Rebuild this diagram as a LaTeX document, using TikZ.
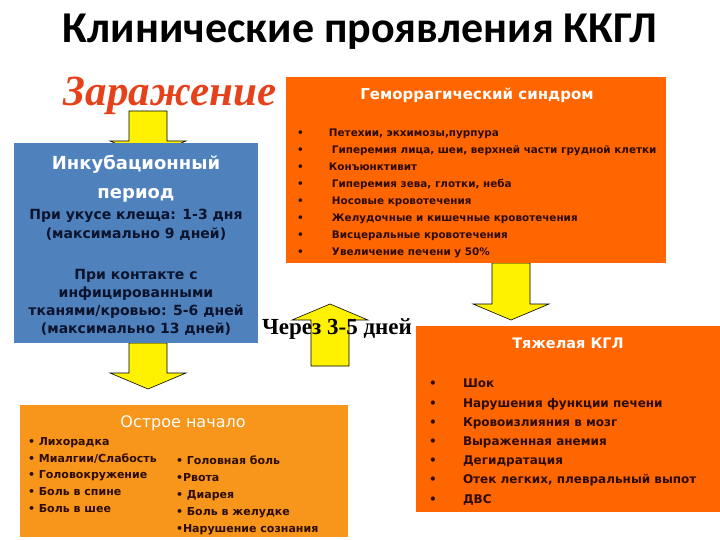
\documentclass[tikz,border=0pt]{standalone}
\usepackage{fontspec}
\setmainfont{DejaVu Sans}
\newfontfamily\titlefont{Carlito}
\newfontfamily\timesfont{Liberation Serif}
\usetikzlibrary{calc,backgrounds}

\definecolor{hemorange}{RGB}{255,102,0}
\definecolor{acuteorange}{RGB}{247,150,27}
\definecolor{incblue}{RGB}{79,129,189}
\definecolor{infred}{RGB}{229,66,27}
\definecolor{browntext}{RGB}{45,12,4}
\definecolor{navytext}{RGB}{12,20,45}

% yellow block arrow from #1 (tail) to #2 (tip), vertical
\newcommand{\yarrow}[2]{%
  \draw[yellowarrow] let \p1=(#1), \p2=(#2), \n1={sign(\y2-\y1)} in
    (\x1-19pt,\y1) -- (\x1+19pt,\y1)
    -- (\x1+19pt,{\y2-(\n1)*16pt}) -- (\x1+38pt,{\y2-(\n1)*16pt})
    -- (\x1,\y2)
    -- (\x1-38pt,{\y2-(\n1)*16pt}) -- (\x1-19pt,{\y2-(\n1)*16pt}) -- cycle;}
\newcommand{\hitem}[2]{\makebox[#1][l]{•}#2}

\begin{document}
\begin{tikzpicture}[x=1pt,y=-1pt,inner sep=0pt,outer sep=0pt,
  box/.style={rectangle,anchor=north west},
  yellowarrow/.style={fill=yellow,draw=black,line width=0.6pt,line join=miter},
  boxtitle/.style={anchor=base,text=white,font=\bfseries\fontsize{15}{18}\selectfont},
  listtext/.style={anchor=base west,align=left,text=browntext}]
\useasboundingbox (0,0) rectangle (720,540);

\draw (360,43) node[anchor=base,font=\titlefont\bfseries\fontsize{44}{50}\selectfont] (title) {Клинические проявления ККГЛ};
\draw (170,106) node[anchor=base,text=infred,font=\timesfont\bfseries\itshape\fontsize{43}{48}\selectfont] (zar) {Заражение};

% boxes
\draw (14,143) node[box,fill=incblue,minimum width=244pt,minimum height=200pt] (inc) {};
\draw (286,77) node[box,fill=hemorange,minimum width=380pt,minimum height=186pt] (hem) {};
\draw (20,405) node[box,fill=acuteorange,minimum width=328pt,minimum height=132pt] (acute) {};
\draw (416,326) node[box,fill=hemorange,minimum width=304pt,minimum height=186pt] (heavy) {};

% incubation (base = last line)
\draw (136,199) node[anchor=base,align=center,text=white,font=\bfseries\fontsize{18}{29}\selectfont] (incHead) {Инкубационный\\период};
\draw (136,239) node[anchor=base,align=center,text=navytext,font=\bfseries\fontsize{14}{19}\selectfont] (incTick) {При укусе клеща: 1-3 дня\\(максимально 9 дней)};
\draw (136,333) node[anchor=base,align=center,text=navytext,font=\bfseries\fontsize{14}{18}\selectfont] (incContact) {При контакте с\\инфицированными\\тканями/кровью: 5-6 дней\\(максимально 13 дней)};

% hemorrhagic syndrome
\draw (477,100) node[boxtitle] (hemTitle) {Геморрагический синдром};
\draw (297,255) node[listtext,font=\bfseries\fontsize{10.4}{16.9}\selectfont] (hemList) {%
  \hitem{32pt}{Петехии, экхимозы,пурпура}\\
  \hitem{35pt}{Гиперемия лица, шеи, верхней части грудной клетки}\\
  \hitem{32pt}{Конъюнктивит}\\
  \hitem{35pt}{Гиперемия зева, глотки, неба}\\
  \hitem{35pt}{Носовые кровотечения}\\
  \hitem{35pt}{Желудочные и кишечные кровотечения}\\
  \hitem{35pt}{Висцеральные кровотечения}\\
  \hitem{35pt}{Увеличение печени у 50\%}};

% acute onset
\draw (183,427) node[anchor=base,text=white,font=\fontsize{16}{19}\selectfont] (acuteTitle) {Острое начало};
\draw (28,512) node[listtext,font=\bfseries\fontsize{11}{16.6}\selectfont] (acuteLeft) {%
  • Лихорадка\\• Миалгии/Слабость\\• Головокружение\\• Боль в спине\\• Боль в шее};
\draw (176,532) node[listtext,font=\bfseries\fontsize{11}{16.8}\selectfont] (acuteRight) {%
  • Головная боль\\•Рвота\\• Диарея\\• Боль в желудке\\•Нарушение сознания};

% severe
\draw (568,348) node[boxtitle,font=\bfseries\fontsize{14.5}{18}\selectfont] (heavyTitle) {Тяжелая КГЛ};
\draw (429,503) node[listtext,font=\bfseries\fontsize{12}{19.2}\selectfont] (heavyList) {%
  \hitem{34pt}{Шок}\\
  \hitem{34pt}{Нарушения функции печени}\\
  \hitem{34pt}{Кровоизлияния в мозг}\\
  \hitem{34pt}{Выраженная анемия}\\
  \hitem{34pt}{Дегидратация}\\
  \hitem{34pt}{Отек легких, плевральный выпот}\\
  \hitem{34pt}{ДВС}};

\coordinate (zarfoot) at (148,111);
\coordinate (hemfoot) at (511,263);
\coordinate (upfoot) at (330,366);
\coordinate (uptip) at (330,304);

\begin{pgfonlayer}{background}
\yarrow{zarfoot}{$(zarfoot |- inc.north)+(0,14)$}
\yarrow{zarfoot |- inc.south}{$(zarfoot |- acute.north)+(0,-16)$}
\yarrow{hemfoot}{$(hemfoot |- heavy.north)+(0,-6)$}
\yarrow{upfoot}{uptip}
\end{pgfonlayer}

\draw (337,334) node[anchor=base,font=\timesfont\bfseries\fontsize{23}{27}\selectfont] (days) {Через 3-5 дней};
\end{tikzpicture}
\end{document}
